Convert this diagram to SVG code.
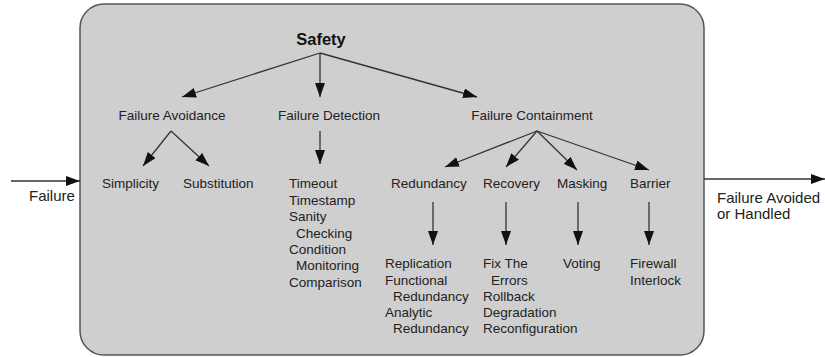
<svg xmlns="http://www.w3.org/2000/svg" width="825" height="357" viewBox="0 0 825 357">
  <defs>
    <marker id="arrow" markerUnits="userSpaceOnUse" markerWidth="16" markerHeight="12" refX="14" refY="5" orient="auto">
      <path d="M0,0 L14,5 L0,10 Z" fill="#111"/>
    </marker>
    <style>
      text { font-family: "Liberation Sans", Arial, sans-serif; fill: #222; }
      .lbl { font-size: 13.5px; }
      .outer { font-size: 15px; }
      .title { font-size: 16.5px; font-weight: bold; fill: #111; }
      .mid { text-anchor: middle; }
      .conn line { stroke: #333; stroke-width: 1.3; marker-end: url(#arrow); }
    </style>
  </defs>
  <rect width="825" height="357" fill="#fff"/>

  <!-- enclosing system boundary -->
  <g id="system">
    <rect x="80" y="4" width="624" height="351" rx="24" ry="24" fill="#cfcfcf" stroke="#555" stroke-width="1.5"/>
  </g>

  <g id="safety"><text class="title mid" x="321" y="45">Safety</text></g>

  <g id="failure-avoidance"><text class="lbl mid" x="172" y="120">Failure Avoidance</text></g>
  <g id="failure-detection"><text class="lbl mid" x="329" y="120">Failure Detection</text></g>
  <g id="failure-containment"><text class="lbl mid" x="532" y="120">Failure Containment</text></g>

  <g id="simplicity"><text class="lbl" x="102" y="188">Simplicity</text></g>
  <g id="substitution"><text class="lbl" x="183" y="188">Substitution</text></g>

  <g id="detection-methods">
    <text class="lbl" x="289" y="188">Timeout</text>
    <text class="lbl" x="289" y="204.5">Timestamp</text>
    <text class="lbl" x="289" y="221">Sanity</text>
    <text class="lbl" x="296" y="237.5">Checking</text>
    <text class="lbl" x="289" y="254">Condition</text>
    <text class="lbl" x="296" y="270">Monitoring</text>
    <text class="lbl" x="289" y="286.5">Comparison</text>
  </g>

  <g id="redundancy"><text class="lbl" x="391" y="188">Redundancy</text></g>
  <g id="recovery"><text class="lbl" x="483" y="188">Recovery</text></g>
  <g id="masking"><text class="lbl" x="557" y="188">Masking</text></g>
  <g id="barrier"><text class="lbl" x="630" y="188">Barrier</text></g>

  <g id="redundancy-methods">
    <text class="lbl" x="385" y="268">Replication</text>
    <text class="lbl" x="385" y="284.5">Functional</text>
    <text class="lbl" x="393" y="300.5">Redundancy</text>
    <text class="lbl" x="385" y="317">Analytic</text>
    <text class="lbl" x="393" y="333">Redundancy</text>
  </g>
  <g id="recovery-methods">
    <text class="lbl" x="483" y="268">Fix The</text>
    <text class="lbl" x="491" y="284.5">Errors</text>
    <text class="lbl" x="483" y="300.5">Rollback</text>
    <text class="lbl" x="483" y="317">Degradation</text>
    <text class="lbl" x="483" y="333">Reconfiguration</text>
  </g>
  <g id="masking-methods"><text class="lbl" x="563" y="268">Voting</text></g>
  <g id="barrier-methods">
    <text class="lbl" x="630" y="268">Firewall</text>
    <text class="lbl" x="630" y="284.5">Interlock</text>
  </g>

  <g id="input"><text class="outer" x="29" y="201">Failure</text></g>
  <g id="output">
    <text class="outer" x="717" y="203">Failure Avoided</text>
    <text class="outer" x="717" y="219">or Handled</text>
  </g>

  <g class="conn" id="connectors">
    <line x1="320" y1="53" x2="182" y2="97"/>
    <line x1="320" y1="53" x2="320" y2="97"/>
    <line x1="320" y1="53" x2="477" y2="97"/>

    <line x1="171" y1="131" x2="143" y2="166"/>
    <line x1="171" y1="131" x2="209" y2="166"/>
    <line x1="320" y1="131" x2="320" y2="164"/>

    <line x1="537" y1="131" x2="445" y2="167"/>
    <line x1="537" y1="131" x2="506" y2="167"/>
    <line x1="537" y1="131" x2="577" y2="170"/>
    <line x1="537" y1="131" x2="649" y2="170"/>

    <line x1="433" y1="202" x2="433" y2="245"/>
    <line x1="506" y1="202" x2="506" y2="245"/>
    <line x1="578" y1="202" x2="578" y2="245"/>
    <line x1="649" y1="202" x2="649" y2="245"/>

    <line x1="11" y1="181" x2="80" y2="181"/>
    <line x1="704" y1="179" x2="825" y2="179"/>
  </g>
</svg>
